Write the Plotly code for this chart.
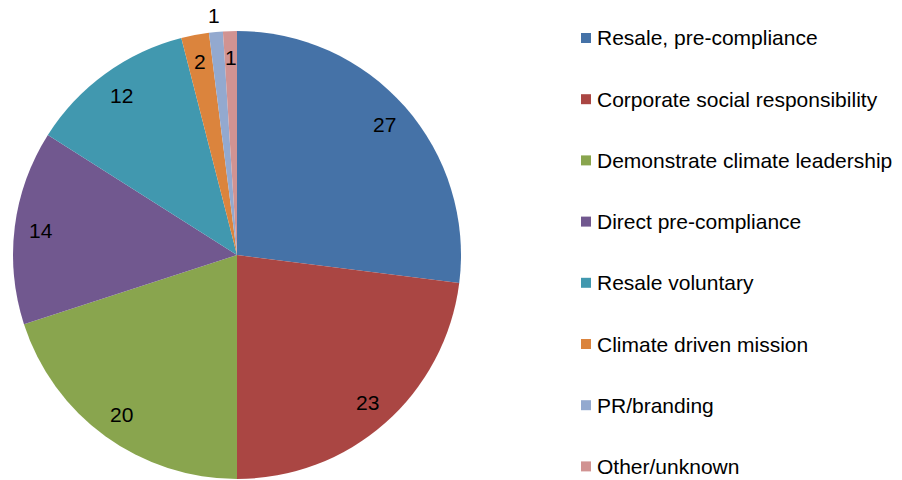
import math
import plotly.graph_objects as go

labels = ["Resale, pre-compliance", "Corporate social responsibility", "Demonstrate climate leadership",
          "Direct pre-compliance", "Resale voluntary", "Climate driven mission", "PR/branding", "Other/unknown"]
values = [27, 23, 20, 14, 12, 2, 1, 1]
colors = ["#4572A7", "#AA4643", "#89A54E", "#71588F", "#4198AF", "#DB843D", "#93A9CF", "#D19392"]
label_radius = [0.88, 0.88, 0.88, 0.88, 0.88, 0.88, 1.075, 0.88]

W, H = 902, 480
FONT = "Liberation Sans, Arial, sans-serif"
PIE_L, PIE_R, PIE_T, PIE_B = 13, 461, 31, 479   # pixel box of the pie
RAD = (PIE_R - PIE_L) / 2
Y_TOP = 1.1   # label axis extends above the pie for the outside label

def px(x):
    return x / W

def py(y):
    return 1 - y / H

dom = dict(x=[px(PIE_L), px(PIE_R)], y=[py(PIE_B), py(PIE_T)])

fig = go.Figure()
fig.add_trace(go.Pie(
    labels=labels, values=values, sort=False, direction="clockwise", rotation=0,
    marker=dict(colors=colors, line=dict(width=0)),
    textinfo="none", domain=dom, showlegend=False, hoverinfo="label+value",
))

# invisible axes whose unit circle coincides with the pie, used to place the data labels
fig.update_layout(
    xaxis=dict(domain=dom["x"], range=[-1, 1], visible=False, fixedrange=True),
    yaxis=dict(domain=[py(PIE_B), py(PIE_T - (Y_TOP - 1) * RAD)], range=[-1, Y_TOP],
               visible=False, fixedrange=True),
)
total = sum(values)
acc = 0
for v, r in zip(values, label_radius):
    ang = (acc + v / 2) / total * 2 * math.pi
    acc += v
    fig.add_annotation(text=str(v), xref="x", yref="y",
                       x=r * math.sin(ang), y=r * math.cos(ang),
                       xanchor="center", yanchor="middle", showarrow=False,
                       font=dict(family=FONT, size=21, color="black"))

# manual legend
leg_font = dict(family=FONT, size=21, color="black")
y0, dy = 38, 61.2
for i, (lab, col) in enumerate(zip(labels, colors)):
    yc = y0 + i * dy
    fig.add_shape(type="rect", xref="paper", yref="paper",
                  x0=px(581), x1=px(591), y0=py(yc + 5), y1=py(yc - 5),
                  fillcolor=col, line=dict(width=0))
    fig.add_annotation(text=lab, xref="paper", yref="paper", x=px(595), y=py(yc),
                       xanchor="left", yanchor="middle", showarrow=False, font=leg_font)

fig.update_layout(width=W, height=H, margin=dict(l=0, r=0, t=0, b=0),
                  paper_bgcolor="white", plot_bgcolor="rgba(0,0,0,0)")
fig.write_html("out.html", config={"displayModeBar": False},
               post_script="document.body.style.margin='0px';")
